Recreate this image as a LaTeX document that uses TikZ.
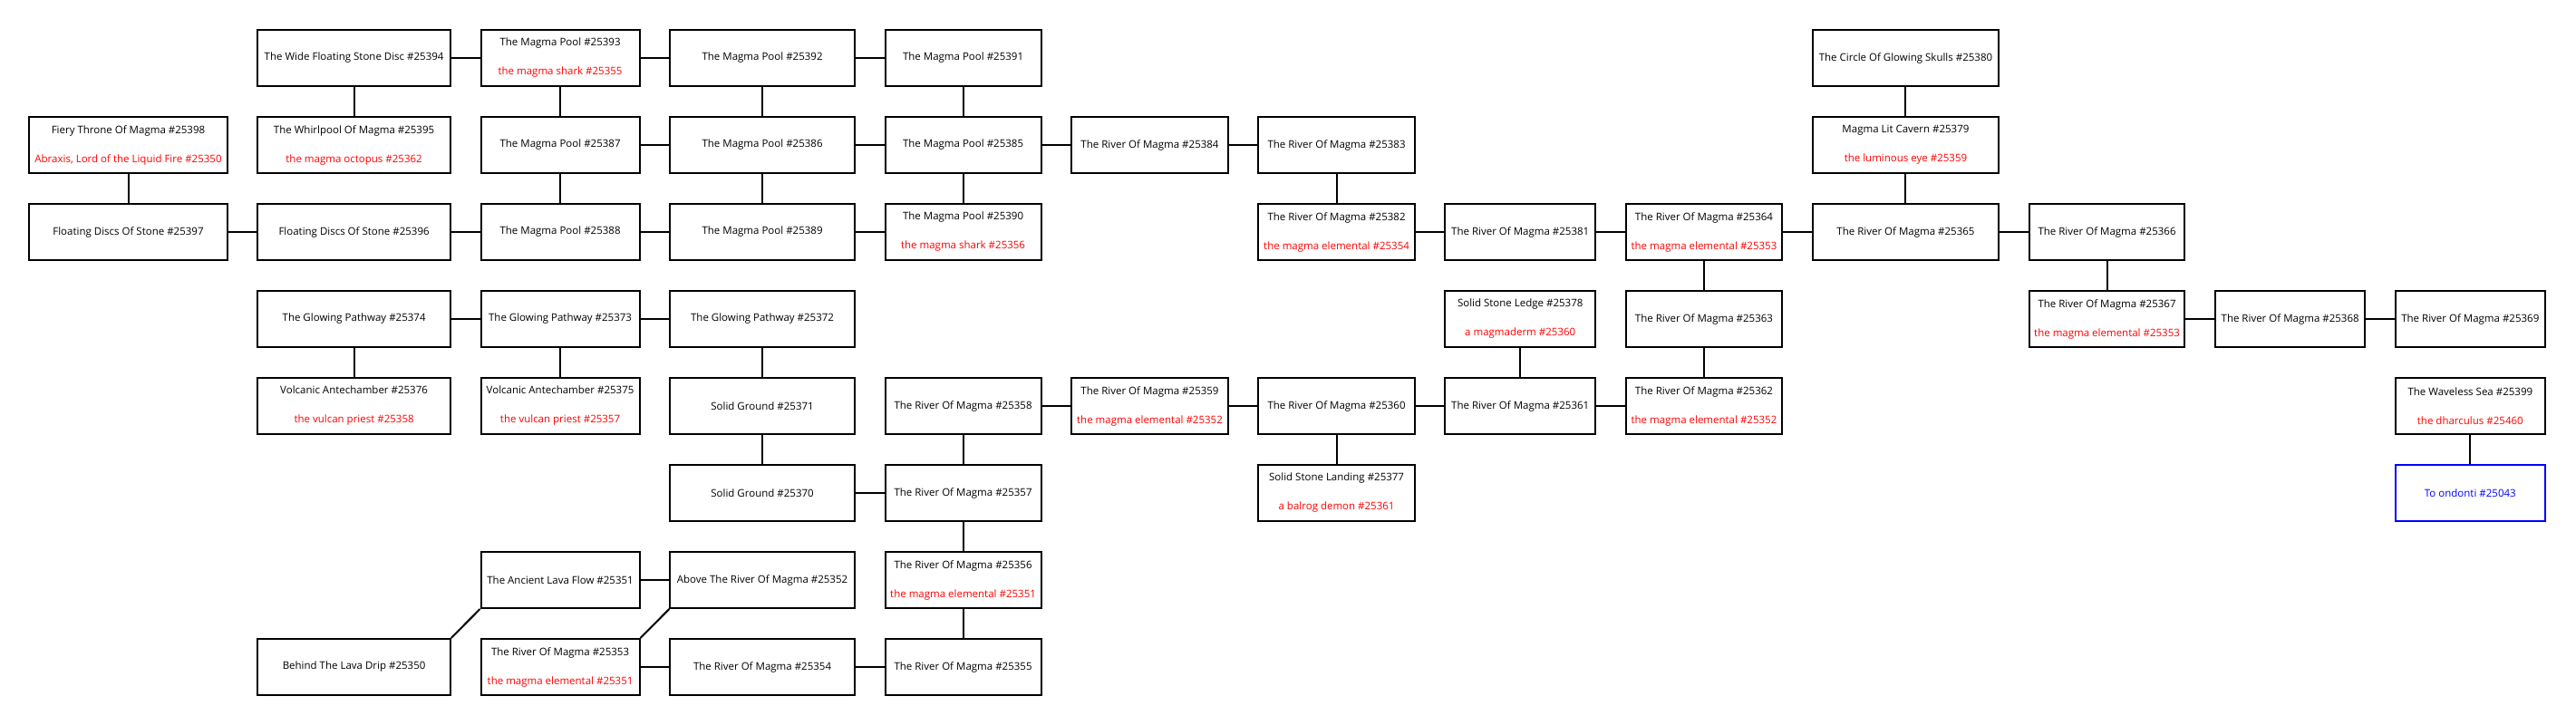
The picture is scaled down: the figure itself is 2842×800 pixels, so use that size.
\documentclass[tikz,border=0pt]{standalone}
\usepackage{fontspec}
\setmainfont{Open Sans}
\usetikzlibrary{positioning}

\newcommand{\monster}[1]{\textcolor{red}{#1}}

\begin{document}
\begin{tikzpicture}[x=1pt,y=1pt,node distance=32pt and 31.8pt]
  \tikzstyle{every node}=[font=\fontsize{11.5}{32}\selectfont]
  \tikzstyle{room}=[draw,line width=2pt,minimum height=62pt,inner sep=0pt,align=center]
  \tikzstyle{exit}=[room,draw=blue,text=blue]
  \tikzstyle{every edge}=[draw,line width=2pt]
  % column widths
  \tikzstyle{colA}=[minimum width=218.3pt]
  \tikzstyle{colB}=[minimum width=212.3pt]
  \tikzstyle{colC}=[minimum width=175pt]
  \tikzstyle{colD}=[minimum width=203.4pt]
  \tikzstyle{colE}=[minimum width=172pt]
  \tikzstyle{colF}=[minimum width=172.3pt]
  \tikzstyle{colG}=[minimum width=172.2pt]
  \tikzstyle{colH}=[minimum width=165.5pt]
  \tikzstyle{colI}=[minimum width=172.4pt]
  \tikzstyle{colJ}=[minimum width=205pt]
  \tikzstyle{colK}=[minimum width=171.6pt]
  \tikzstyle{colL}=[minimum width=165pt]
  \tikzstyle{colM}=[minimum width=164.7pt]

  \useasboundingbox (0,0) rectangle (2842,800);

  % row 0
  \node[room,colB] (r25394) at (390.6,736) {The Wide Floating Stone Disc \#25394};
  \node[room,colC] (r25393) [right=of r25394] {The Magma Pool \#25393\\\monster{the magma shark \#25355}};
  \node[room,colD] (r25392) [right=of r25393] {The Magma Pool \#25392};
  \node[room,colE] (r25391) [right=of r25392] {The Magma Pool \#25391};

  % row 1
  \node[room,colB] (r25395) [below=of r25394] {The Whirlpool Of Magma \#25395\\\monster{the magma octopus \#25362}};
  \node[room,colA] (r25398) [left=of r25395]  {Fiery Throne Of Magma \#25398\\\monster{Abraxis, Lord of the Liquid Fire \#25350}};
  \node[room,colC] (r25387) [below=of r25393] {The Magma Pool \#25387};
  \node[room,colD] (r25386) [below=of r25392] {The Magma Pool \#25386};
  \node[room,colE] (r25385) [below=of r25391] {The Magma Pool \#25385};
  \node[room,colF] (r25384) [right=of r25385] {The River Of Magma \#25384};
  \node[room,colG] (r25383) [right=of r25384] {The River Of Magma \#25383};

  % row 2
  \node[room,colA] (r25397) [below=of r25398] {Floating Discs Of Stone \#25397};
  \node[room,colB] (r25396) [below=of r25395] {Floating Discs Of Stone \#25396};
  \node[room,colC] (r25388) [below=of r25387] {The Magma Pool \#25388};
  \node[room,colD] (r25389) [below=of r25386] {The Magma Pool \#25389};
  \node[room,colE] (r25390) [below=of r25385] {The Magma Pool \#25390\\\monster{the magma shark \#25356}};
  \node[room,colG] (r25382) [below=of r25383] {The River Of Magma \#25382\\\monster{the magma elemental \#25354}};
  \node[room,colH] (r25381) [right=of r25382] {The River Of Magma \#25381};
  \node[room,colI] (r25364) [right=of r25381] {The River Of Magma \#25364\\\monster{the magma elemental \#25353}};
  \node[room,colJ] (r25365) [right=of r25364] {The River Of Magma \#25365};
  \node[room,colK] (r25366) [right=of r25365] {The River Of Magma \#25366};
  \node[room,colJ] (r25379) [above=of r25365] {Magma Lit Cavern \#25379\\\monster{the luminous eye \#25359}};
  \node[room,colJ] (r25380) [above=of r25379] {The Circle Of Glowing Skulls \#25380};

  % row 3
  \node[room,colB] (r25374) [below=of r25396] {The Glowing Pathway \#25374};
  \node[room,colC] (r25373) [below=of r25388] {The Glowing Pathway \#25373};
  \node[room,colD] (r25372) [below=of r25389] {The Glowing Pathway \#25372};
  \node[room,colH] (r25378) [below=of r25381] {Solid Stone Ledge \#25378\\\monster{a magmaderm \#25360}};
  \node[room,colI] (r25363) [below=of r25364] {The River Of Magma \#25363};
  \node[room,colK] (r25367) [below=of r25366] {The River Of Magma \#25367\\\monster{the magma elemental \#25353}};
  \node[room,colL] (r25368) [right=of r25367] {The River Of Magma \#25368};
  \node[room,colM] (r25369) [right=of r25368] {The River Of Magma \#25369};

  % row 4
  \node[room,colB] (r25376) [below=of r25374] {Volcanic Antechamber \#25376\\\monster{the vulcan priest \#25358}};
  \node[room,colC] (r25375) [below=of r25373] {Volcanic Antechamber \#25375\\\monster{the vulcan priest \#25357}};
  \node[room,colD] (r25371) [below=of r25372] {Solid Ground \#25371};
  \node[room,colE] (r25358) [right=of r25371] {The River Of Magma \#25358};
  \node[room,colF] (r25359) [right=of r25358] {The River Of Magma \#25359\\\monster{the magma elemental \#25352}};
  \node[room,colG] (r25360) [right=of r25359] {The River Of Magma \#25360};
  \node[room,colH] (r25361) [right=of r25360] {The River Of Magma \#25361};
  \node[room,colI] (r25362) [right=of r25361] {The River Of Magma \#25362\\\monster{the magma elemental \#25352}};
  \node[room,colM] (r25399) [below=of r25369] {The Waveless Sea \#25399\\\monster{the dharculus \#25460}};

  % row 5
  \node[room,colD] (r25370) [below=of r25371] {Solid Ground \#25370};
  \node[room,colE] (r25357) [below=of r25358] {The River Of Magma \#25357};
  \node[room,colG] (r25377) [below=of r25360] {Solid Stone Landing \#25377\\\monster{a balrog demon \#25361}};
  \node[exit,colM] (r25043) [below=of r25399] {To ondonti \#25043};

  % row 6
  \node[room,colE] (r25356) [below=of r25357] {The River Of Magma \#25356\\\monster{the magma elemental \#25351}};
  \node[room,colD] (r25352) [left=of r25356]  {Above The River Of Magma \#25352};
  \node[room,colC] (r25351) [left=of r25352]  {The Ancient Lava Flow \#25351};

  % row 7
  \node[room,colE] (r25355) [below=of r25356] {The River Of Magma \#25355};
  \node[room,colD] (r25354) [left=of r25355]  {The River Of Magma \#25354};
  \node[room,colC] (r25353) [left=of r25354]  {The River Of Magma \#25353\\\monster{the magma elemental \#25351}};
  \node[room,colB] (r25350) [left=of r25353]  {Behind The Lava Drip \#25350};

  \path (r25394) edge (r25393) edge (r25395)
        (r25393) edge (r25392) edge (r25387)
        (r25392) edge (r25391) edge (r25386)
        (r25391) edge (r25385)
        (r25398) edge (r25397)
        (r25387) edge (r25386) edge (r25388)
        (r25386) edge (r25385) edge (r25389)
        (r25385) edge (r25384) edge (r25390)
        (r25384) edge (r25383)
        (r25383) edge (r25382)
        (r25380) edge (r25379)
        (r25379) edge (r25365)
        (r25397) edge (r25396)
        (r25396) edge (r25388)
        (r25388) edge (r25389)
        (r25389) edge (r25390)
        (r25382) edge (r25381)
        (r25381) edge (r25364)
        (r25364) edge (r25365) edge (r25363)
        (r25365) edge (r25366)
        (r25366) edge (r25367)
        (r25374) edge (r25373) edge (r25376)
        (r25373) edge (r25372) edge (r25375)
        (r25372) edge (r25371)
        (r25378) edge (r25361)
        (r25363) edge (r25362)
        (r25367) edge (r25368)
        (r25368) edge (r25369)
        (r25371) edge (r25370)
        (r25358) edge (r25359) edge (r25357)
        (r25359) edge (r25360)
        (r25360) edge (r25361) edge (r25377)
        (r25361) edge (r25362)
        (r25399) edge (r25043)
        (r25370) edge (r25357)
        (r25357) edge (r25356)
        (r25351) edge (r25352)
        (r25356) edge (r25355)
        (r25353) edge (r25354)
        (r25354) edge (r25355)
        (r25350.north east) edge (r25351.south west)
        (r25353.north east) edge (r25352.south west);
\end{tikzpicture}
\end{document}
